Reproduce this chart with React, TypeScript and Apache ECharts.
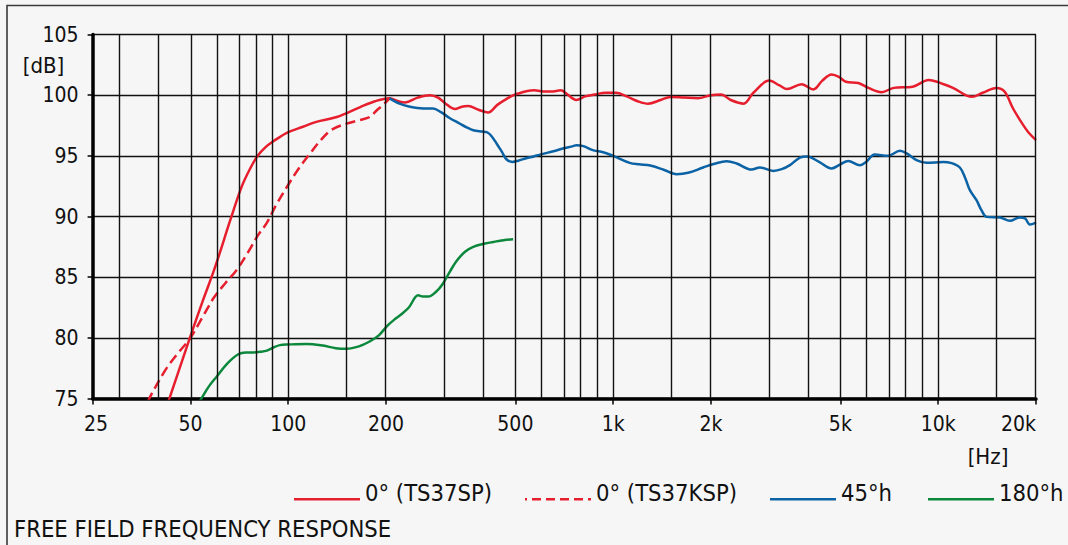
import React, { useEffect, useRef } from "react";
import * as echarts from "echarts";

// ---- data (frequency in Hz, level in dB) ----
const TS37SP: [number, number][] = [
  [42.5, 74.6], [43.2, 75.1], [49.8, 80.0], [54.5, 83.0], [59.5, 85.8], [66.5, 89.8],
  [72, 92.5], [76.5, 94.0], [80.5, 95.0], [85, 95.7], [90, 96.2], [99, 96.9], [111, 97.4],
  [122, 97.8], [141, 98.2], [166, 99.0], [185, 99.5], [205, 99.75], [218, 99.5], [229, 99.4], [250, 99.8],
  [273, 100.0], [289, 99.8], [305, 99.3], [326, 98.85], [342, 99.05], [358, 99.1], [385, 98.8], [412, 98.57],
  [440, 99.2], [470, 99.7], [500, 100.05], [570, 100.4], [620, 100.3], [645, 100.3], [690, 100.4], [720, 100.1],
  [770, 99.6], [820, 99.9], [874, 100.05], [950, 100.2], [1020, 100.2], [1100, 99.9], [1190, 99.5], [1280, 99.3],
  [1400, 99.6], [1500, 99.85], [1650, 99.8], [1820, 99.75], [2000, 100.0], [2150, 100.05], [2300, 99.6],
  [2520, 99.3], [2700, 100.2], [3020, 101.2], [3250, 100.8], [3427, 100.5], [3800, 100.9], [4130, 100.47],
  [4400, 101.2], [4700, 101.7], [4950, 101.5], [5200, 101.1], [5680, 101.0], [6100, 100.6], [6700, 100.25],
  [7300, 100.6], [8350, 100.7], [9350, 101.25], [10400, 100.9], [11100, 100.6], [12700, 99.86], [13700, 100.2],
  [15100, 100.6], [16000, 100.3], [17000, 98.9], [18000, 97.8], [19000, 96.9], [20000, 96.3],
];

const TS37KSP: [number, number][] = [
  [37.0, 74.7], [37.5, 75.1], [42, 77.4], [46, 78.8], [50, 80.0], [55, 81.9], [59, 83.3], [64, 84.5],
  [69.4, 85.6], [75, 87.0], [80.5, 88.4], [86, 89.5], [92, 91.0], [101, 92.8], [108, 94.0], [116, 95.1],
  [126, 96.3], [136, 97.15], [151, 97.65], [166, 97.95], [178, 98.2], [188, 98.8], [196, 99.2], [205, 99.73],
];

const H45: [number, number][] = [
  [205, 99.73], [220, 99.3], [237, 99.04], [260, 98.9], [279, 98.9], [295, 98.6], [314.5, 98.1], [335, 97.7],
  [354, 97.35], [371, 97.11], [395, 97.0], [408, 96.95], [420, 96.7], [438, 96.0], [455, 95.3], [470, 94.7],
  [490, 94.5], [510, 94.6], [540, 94.8], [569, 94.95], [595, 95.1], [660, 95.4], [700, 95.6], [753, 95.8],
  [770, 95.88], [809, 95.8], [870, 95.45], [931, 95.3], [1000, 95.0], [1125, 94.42], [1200, 94.3], [1300, 94.2],
  [1430, 93.85], [1567, 93.49], [1700, 93.6], [1892, 94.04], [2050, 94.35], [2234, 94.56], [2398, 94.37],
  [2666, 93.87], [2827, 94.04], [3107, 93.76], [3300, 93.9], [3498, 94.23], [3754, 94.86], [3950, 94.95],
  [4300, 94.5], [4698, 93.96], [5000, 94.3], [5284, 94.58], [5741, 94.23], [6000, 94.5], [6384, 95.11],
  [7015, 95.0], [7627, 95.41], [8000, 95.2], [8578, 94.64], [9210, 94.42], [10360, 94.5], [11000, 94.4],
  [11660, 94.04], [12100, 93.2], [12520, 92.17], [13120, 91.34], [13600, 90.5], [14090, 89.97], [15490, 89.92],
  [16620, 89.64], [17830, 89.92], [18500, 89.85], [19150, 89.34], [20000, 89.5],
];

const H180: [number, number][] = [
  [53, 74.6], [54.6, 75.2], [57, 76.0], [60.2, 76.8], [65, 77.9], [70.2, 78.65], [74, 78.8], [78, 78.8],
  [82, 78.85], [86, 78.95], [90, 79.2], [94.3, 79.4], [100, 79.45], [114, 79.5], [128, 79.36], [140, 79.15],
  [151, 79.1], [165, 79.3], [178, 79.7], [190, 80.2], [201, 80.95], [212, 81.5], [222, 81.9], [235, 82.5],
  [251, 83.5], [260, 83.4], [270, 83.4], [285, 83.8], [298, 84.4], [315, 85.5], [330, 86.35], [350, 87.1],
  [371, 87.5], [400, 87.75], [427, 87.9], [460, 88.05], [492, 88.13],
];

const LABEL_FREQS = [25, 50, 100, 200, 500, 1000, 2000, 5000, 10000, 20000];
const GRID_FREQS = [30, 40, 50, 60, 70, 80, 90, 100, 150, 200, 300, 400, 500, 600, 700, 800, 900, 1000,
  1500, 2000, 3000, 4000, 5000, 6000, 7000, 8000, 9000, 10000, 15000, 20000];
const SERIES_NAMES = ["0° (TS37SP)", "0° (TS37KSP)", "45°h", "180°h"];
const TITLE = "FREE FIELD FREQUENCY RESPONSE";

const RED = "#e61e2d";
const BLUE = "#0b62a4";
const GREEN = "#0c883c";
const FONT = "Tahoma, 'DejaVu Sans Condensed', 'DejaVu Sans', sans-serif";

const lg = (f: number) => Math.log10(f);
const fmtHz = (f: number) => (f >= 1000 ? f / 1000 + "k" : String(f));

const SOLID_ICON = "path://M0,0 M0,16 L66,16 L66,18.5 L0,18.5 Z M66,22";
const DASH_ICON =
  "path://M0,0 M0,16 L2,16 L2,18.5 L0,18.5 Z M7,16 L16,16 L16,18.5 L7,18.5 Z M21,16 L30,16 L30,18.5 L21,18.5 Z " +
  "M35,16 L44,16 L44,18.5 L35,18.5 Z M49,16 L58,16 L58,18.5 L49,18.5 Z M63,16 L66,16 L66,18.5 L63,18.5 Z M66,22";

function legendAt(name: string, left: number, color: string, icon: string) {
  return {
    data: [{ name, icon }],
    left,
    top: 481,
    padding: 0,
    itemWidth: 66,
    itemHeight: 22,
    selectedMode: false,
    itemStyle: { color, borderWidth: 0 },
    textStyle: { fontSize: 23.6, color: "#111", fontFamily: FONT },
  };
}

export default function App() {
  const ref = useRef<HTMLDivElement>(null);
  useEffect(() => {
    if (!ref.current) return;
    const chart = echarts.init(ref.current, null, { renderer: "svg" });
    const toXY = (arr: [number, number][]) => arr.map(([f, v]) => [lg(f), v]);
    const lineSeries = (name: string, arr: [number, number][], color: string, dashed = false) => ({
      name,
      type: "line",
      data: toXY(arr),
      smooth: 0.35,
      showSymbol: false,
      symbol: "none",
      z: 3,
      clip: true,
      lineStyle: { color, width: 2.5, type: dashed ? [10, 5] : "solid" },
      itemStyle: { color },
      emphasis: { disabled: true },
    });
    chart.setOption({
      animation: false,
      backgroundColor: "#f6f6f6",
      title: {
        text: TITLE,
        left: 14,
        top: 517,
        padding: 0,
        textStyle: { fontSize: 23.6, fontWeight: "normal", color: "#111", fontFamily: FONT },
      },
      legend: [
        legendAt(SERIES_NAMES[0], 294, RED, SOLID_ICON),
        legendAt(SERIES_NAMES[1], 525, RED, DASH_ICON),
        legendAt(SERIES_NAMES[2], 770, BLUE, SOLID_ICON),
        legendAt(SERIES_NAMES[3], 928, GREEN, SOLID_ICON),
      ],
      grid: { left: 92.6, top: 34.5, width: 943.4, height: 364 },
      xAxis: {
        type: "value",
        min: lg(25),
        max: lg(20000),
        axisLine: { show: true, onZero: false, lineStyle: { color: "#000", width: 3.5 } },
        axisTick: {
          show: true,
          customValues: LABEL_FREQS.map(lg),
          length: 6,
          lineStyle: { color: "#000", width: 1.5 },
        },
        axisLabel: {
          customValues: LABEL_FREQS.map(lg),
          margin: 15,
          fontSize: 21,
          color: "#111",
          fontFamily: FONT,
          alignMaxLabel: "right",
          formatter: (v: number) => {
            const f = Math.round(Math.pow(10, v));
            const s = fmtHz(f);
            return f === 25 ? "{a|" + s + "}" : s;
          },
          rich: { a: { padding: [0, 0, 0, 7], fontSize: 21, fontFamily: FONT, color: "#111" } },
        },
        splitLine: { show: false },
      },
      yAxis: {
        type: "value",
        min: 75,
        max: 105,
        interval: 5,
        axisLine: { show: true, onZero: false, lineStyle: { color: "#000", width: 3.5 } },
        axisTick: { show: true, length: 5, lineStyle: { color: "#000", width: 1.5 } },
        axisLabel: { margin: 14, fontSize: 21, color: "#111", fontFamily: FONT },
        splitLine: { show: true, lineStyle: { color: "#111", width: 1.4 } },
      },
      graphic: [
        {
          type: "rect",
          shape: { x: 7, y: 5.5, width: 1080, height: 560 },
          style: { fill: "none", stroke: "#3a3a3a", lineWidth: 1.6 },
          silent: true,
        },
        {
          type: "text",
          x: 43.5,
          y: 65,
          style: { text: "[dB]", fontSize: 22, fontFamily: FONT, fill: "#111", align: "center", verticalAlign: "middle" },
        },
        {
          type: "text",
          x: 988,
          y: 456,
          style: { text: "[Hz]", fontSize: 22, fontFamily: FONT, fill: "#111", align: "center", verticalAlign: "middle" },
        },
      ],
      series: [
        {
          name: "grid",
          type: "line",
          data: [[lg(25), 75]],
          symbol: "none",
          z: 1,
          silent: true,
          lineStyle: { width: 0 },
          markLine: {
            silent: true,
            symbol: ["none", "none"],
            label: { show: false },
            lineStyle: { color: "#111", width: 1.4, type: "solid" },
            emphasis: { disabled: true },
            data: GRID_FREQS.map((f) => ({ xAxis: lg(f) })),
          },
        },
        lineSeries(SERIES_NAMES[0], TS37SP, RED),
        lineSeries(SERIES_NAMES[1], TS37KSP, RED, true),
        lineSeries(SERIES_NAMES[2], H45, BLUE),
        lineSeries(SERIES_NAMES[3], H180, GREEN),
      ],
    });
    return () => chart.dispose();
  }, []);
  return (
    <div
      ref={ref}
      style={{ position: "fixed", left: 0, top: 0, width: 1068, height: 545 }}
    />
  );
}
